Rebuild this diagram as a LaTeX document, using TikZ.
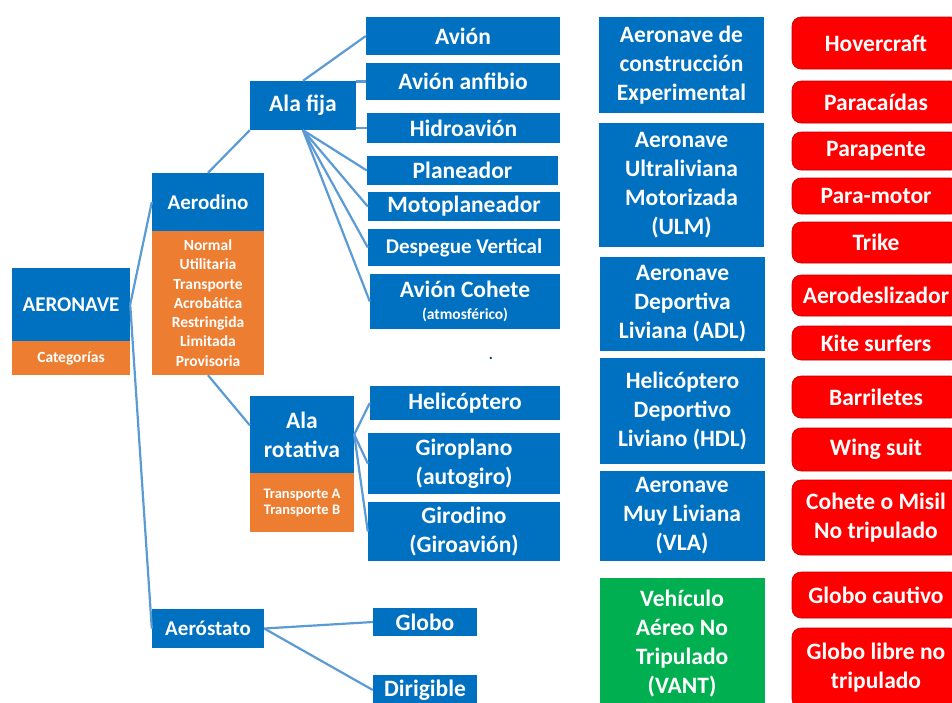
\documentclass[tikz,border=0pt]{standalone}
\usepackage{fontspec}
\setmainfont{Carlito}
\definecolor{azul}{RGB}{0,112,192}
\definecolor{naranja}{RGB}{237,125,49}
\definecolor{verde}{RGB}{0,176,80}
\definecolor{rojo}{RGB}{255,0,0}
\definecolor{linea}{RGB}{91,155,213}
\newcommand{\fgrande}{\fontsize{23.5}{29}\selectfont\bfseries}
\newcommand{\fmedio}{\fontsize{21}{26}\selectfont\bfseries}
\newcommand{\fchico}{\fontsize{15.5}{19.3}\selectfont\bfseries}
\newcommand{\fmini}{\fontsize{14.5}{16}\selectfont\bfseries}
\begin{document}
\begin{tikzpicture}[x=1pt,y=-1pt,
  sz/.style 2 args={minimum width=#1pt,minimum height=#2pt}]
  \useasboundingbox (0,0) rectangle (952,702);
  \clip (0,0) rectangle (952,702);
  % arbol de la izquierda
  \begin{scope}[every node/.style={fill=azul,text=white,font=\fgrande,inner sep=0pt,align=center}]
  \node[sz={118}{73},font=\fmedio] (aeronave) at (71,304.5) {AERONAVE};
  \node[sz={112}{58},font=\fmedio] (aerodino) at (208,202) {Aerodino};
  \node[sz={106}{49}] (alafija) at (303,105.5) {Ala fija};
  \node[sz={104}{77}] (alarot) at (302,434.5) {Ala\\rotativa};
  \node[sz={112}{39},font=\fmedio] (aerostato) at (208,628.5) {Aeróstato};
  \node[sz={194}{38}] (avion) at (463,36) {Avión};
  \node[sz={194}{37}] (anfibio) at (463,81.5) {Avión anfibio};
  \node[sz={193}{30}] (hidro) at (463.5,128) {Hidroavión};
  \node[sz={191}{29}] (planeador) at (462.5,170.5) {Planeador};
  \node[sz={192}{29}] (motopl) at (464,206.5) {Motoplaneador};
  \node[sz={192}{37},font=\fmedio] (despegue) at (464,247.5) {Despegue Vertical};
  \node[sz={190}{55}] (cohete) at (465,301.5) {Avión Cohete\\[-7pt]{\fchico (atmosférico)}};
  \node[sz={190}{34}] (helico) at (465,403) {Helicóptero};
  \node[sz={192}{61}] (giroplano) at (464,463.5) {Giroplano\\(autogiro)};
  \node[sz={192}{59}] (girodino) at (464,531.5) {Girodino\\(Giroavión)};
  \node[sz={104}{28}] (globo) at (425,622) {Globo};
  \node[sz={104}{30}] (dirigible) at (425,690) {Dirigible};
  \end{scope}
  \begin{scope}[every node/.style={fill=naranja,text=white,inner sep=0pt,align=center}]
  \node[sz={118}{34},font=\fchico] (categorias) at (71,358) {Categorías};
  \node[sz={112}{144},font=\fchico] (aerodinocat) at (208,303)
    {Normal\\Utilitaria\\Transporte\\Acrobática\\Restringida\\Limitada\\Provisoria};
  \node[sz={104}{59},font=\fmini] (alarotcat) at (302,502.5) {Transporte A\\Transporte B};
  \end{scope}
  \node[text=azul!60!black,font=\fchico] (punto) at (491,358) {.};
  % columna de aeronaves especiales
  \begin{scope}[every node/.style={fill=azul,text=white,font=\fgrande,inner sep=0pt,align=center}]
  \node[sz={165}{96}] (exp) at (681.5,65) {Aeronave de\\construcción\\Experimental};
  \node[sz={165}{124}] (ulm) at (681.5,185) {Aeronave\\Ultraliviana\\Motorizada\\(ULM)};
  \node[sz={165}{94}] (adl) at (682.5,304) {Aeronave\\Deportiva\\Liviana (ADL)};
  \node[sz={165}{106}] (hdl) at (682.5,411) {Helicóptero\\Deportivo\\Liviano (HDL)};
  \node[sz={165}{90}] (vla) at (682,516) {Aeronave\\Muy Liviana\\(VLA)};
  \node[sz={165}{132},fill=verde] (vant) at (682,644) {Vehículo\\Aéreo No\\Tripulado\\(VANT)};
  \end{scope}
  % columna roja
  \begin{scope}[every node/.style={fill=rojo,draw=rojo!75!black,line width=0.6pt,rounded corners=9pt,text=white,font=\fgrande,inner sep=0pt,align=center,minimum width=168pt}]
  \node[minimum height=52pt] (hover) at (876,43) {Hovercraft};
  \node[minimum height=42pt] (paracaidas) at (876,102) {Paracaídas};
  \node[minimum height=38pt] (parapente) at (876,151) {Parapente};
  \node[minimum height=36pt] (paramotor) at (876,196) {Para-motor};
  \node[minimum height=41pt] (trike) at (876,242.5) {Trike};
  \node[minimum height=41pt] (aerodesl) at (876,295.5) {Aerodeslizador};
  \node[minimum height=34pt] (kite) at (876,343) {Kite surfers};
  \node[minimum height=42pt] (barriletes) at (876,397) {Barriletes};
  \node[minimum height=43pt] (wing) at (876,449.5) {Wing suit};
  \node[minimum height=75pt] (misil) at (876,517.5) {Cohete o Misil\\No tripulado};
  \node[minimum height=46pt] (cautivo) at (876,595) {Globo cautivo};
  \node[minimum height=80pt] (libre) at (876,668) {Globo libre no\\tripulado};
  \end{scope}
  % conexiones
  \begin{scope}[every edge/.style={draw=linea,line width=2.2pt}]
  \path (aeronave.east) edge (aerodino.west);
  \path (aeronave.east) edge (aerostato.west);
  \path (aerodino.north) edge (alafija.south west);
  \path (aerodinocat.south) edge (alarot.170);
  \path (alafija.north) edge (avion.west);
  \path (anfibio.west) edge (anfibio.west -| alafija.east);
  \path (hidro.west) edge (hidro.west -| alafija.east);
  \path (alafija.south) edge (planeador.west);
  \path (alafija.south) edge (motopl.west);
  \path (alafija.south) edge (despegue.west);
  \path (alafija.south) edge (cohete.west);
  \path (alarot.east) edge (helico.west);
  \path (alarot.east) edge (giroplano.west);
  \path (alarot.east) edge (girodino.west);
  \path (aerostato.east) edge (globo.west);
  \path (aerostato.east) edge (dirigible.west);
  \end{scope}
\end{tikzpicture}
\end{document}
